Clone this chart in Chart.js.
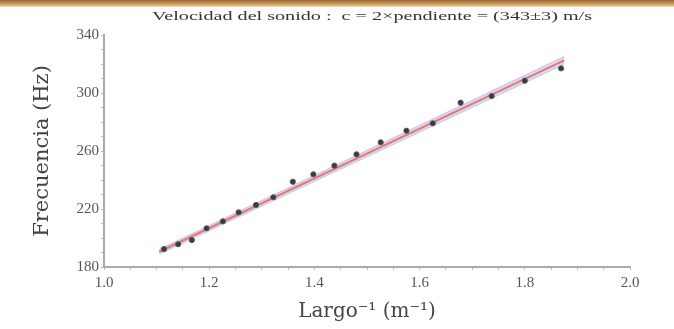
<!DOCTYPE html>
<html>
<head>
<meta charset="utf-8">
<script src="https://cdn.jsdelivr.net/npm/chart.js@4/dist/chart.umd.min.js"></script>
<style>
  html, body { margin: 0; padding: 0; background: #fff; }
  #wrap { position: relative; width: 674px; height: 329px; }
  #stripe { position: absolute; left: 0; top: 0; width: 674px; height: 7px;
            background: linear-gradient(to bottom, #9a6a3a, #d89a55 60%, #f3dcc0); }
  canvas { position: absolute; left: 0; top: 0; }
</style>
</head>
<body>
<div id="wrap">
  <canvas id="chartOne" width="674" height="329"></canvas>
  <div id="stripe"></div>
</div>
<script>
// measured points: inverse length (1/m) vs frequency (Hz)
const largoInv = [1.114, 1.141, 1.167, 1.195, 1.226, 1.256, 1.289, 1.322, 1.359, 1.398,
                  1.438, 1.480, 1.526, 1.575, 1.625, 1.678, 1.737, 1.800, 1.869];
const frecuencia = [192.4, 195.7, 198.6, 206.7, 211.5, 217.7, 222.8, 228.1, 238.8, 243.9,
                    249.9, 257.7, 266.0, 274.0, 279.1, 293.3, 297.9, 308.5, 317.0];

// fitted line and its band, read at the two ends
const fitX = [1.105, 1.875];
const fitY = [190.5, 322.5];
const bandLow = [188.8, 319.8];
const bandHigh = [192.2, 325.2];

const xTicksShown = [1.0, 1.2, 1.4, 1.6, 1.8, 2.0];
const yTicksShown = [180, 220, 260, 300, 340];

const titleText = "Velocidad del sonido :  c = 2\u00d7pendiente = (343\u00b13) m/s";
const serif = "'Liberation Serif', 'DejaVu Serif', serif";
const wideSerif = "'DejaVu Serif', 'Liberation Serif', serif";

const toXY = (xs, ys) => xs.map((x, i) => ({ x: x, y: ys[i] }));

// title drawn a bit stretched, like the wide TeX font of the original
const titlePlugin = {
    id: 'topTitle',
    afterDraw(chart) {
        const ctx = chart.ctx;
        ctx.save();
        ctx.font = "13px " + serif;
        ctx.fillStyle = '#333';
        ctx.textAlign = 'center';
        ctx.textBaseline = 'middle';
        const w = ctx.measureText(titleText).width;
        const k = 440 / w;
        ctx.translate(372, 17);
        ctx.scale(k, 1);
        ctx.fillText(titleText, 0, 0);
        ctx.restore();
    }
};

const chartOne = document.getElementById("chartOne");
let speedChart = new Chart(chartOne, {
    type: 'scatter',
    data: {
        datasets: [{
            label: 'Datos',
            data: toXY(largoInv, frecuencia),
            backgroundColor: '#3a3a44',
            borderColor: '#55555f',
            borderWidth: 1,
            pointRadius: 2.6,
            showLine: false,
            order: 0
        }, {
            label: 'Ajuste',
            data: toXY(fitX, fitY),
            showLine: true,
            borderColor: 'rgb(236, 120, 96)',
            borderWidth: 2,
            pointRadius: 0,
            order: 1
        }, {
            label: 'low',
            data: toXY(fitX, bandLow),
            showLine: true,
            borderColor: 'rgba(150, 150, 230, 0.5)',
            borderWidth: 1,
            pointRadius: 0,
            order: 3
        }, {
            label: 'high',
            data: toXY(fitX, bandHigh),
            showLine: true,
            borderColor: 'rgba(150, 150, 230, 0.5)',
            backgroundColor: 'rgba(185, 185, 240, 0.55)',
            borderWidth: 1,
            pointRadius: 0,
            fill: '-1',
            order: 2
        }]
    },
    options: {
        responsive: false,
        animation: false,
        layout: { padding: { top: 35, right: 44, left: 0, bottom: 0 } },
        plugins: {
            legend: { display: false },
            tooltip: { enabled: false }
        },
        scales: {
            x: {
                type: 'linear',
                min: 1.0,
                max: 2.0,
                afterFit: (s) => { s.height = 62; },
                border: { color: '#aaa', width: 2 },
                grid: { drawOnChartArea: false, color: '#bbb', tickLength: 3 },
                ticks: {
                    stepSize: 0.05,
                    autoSkip: false,
                    maxRotation: 0,
                    padding: 4,
                    color: '#555',
                    font: { family: serif, size: 15 },
                    callback: (v) => xTicksShown.some(t => Math.abs(t - v) < 1e-6) ? v.toFixed(1) : ''
                },
                title: {
                    display: true,
                    text: 'Largo\u207b\u00b9 (m\u207b\u00b9)',
                    color: '#444',
                    font: { family: wideSerif, size: 20 },
                    padding: { top: 0, bottom: 5 }
                }
            },
            y: {
                min: 180,
                max: 340,
                afterFit: (s) => { s.width = 104; },
                border: { color: '#aaa', width: 2 },
                grid: { drawOnChartArea: false, color: '#bbb', tickLength: 3 },
                ticks: {
                    stepSize: 10,
                    autoSkip: false,
                    padding: 2,
                    color: '#555',
                    font: { family: serif, size: 15 },
                    callback: (v) => yTicksShown.includes(v) ? String(v) : ''
                },
                title: {
                    display: true,
                    text: 'Frecuencia (Hz)',
                    color: '#444',
                    font: { family: wideSerif, size: 21 },
                    padding: { top: 30, bottom: 6 }
                }
            }
        }
    },
    plugins: [titlePlugin]
});
</script>
</body>
</html>
